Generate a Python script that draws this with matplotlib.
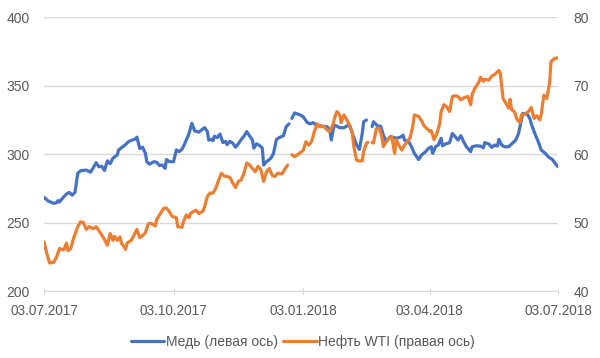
import numpy as np
import pandas as pd
import matplotlib
matplotlib.use("Agg")
import matplotlib.pyplot as plt
import matplotlib.dates as mdates

# Copper (left axis): days since 03.07.2017 and values, NaN = gap in data
copper_days = [0, 3, 7, 9, 10, 11, 14, 16, 18, 20, 22, 24, 26, 30, 33, 35, 37, 39, 41, 43,
               45, 47, 49, 52, 53, 55, 58, 60, 62, 65, 66, 68, 70, 72, 73, 75, 78, 80, 82, 84,
               86, 87, 89, 92, 94, 96, 98, 100, 103, 105, 107, 110, 112, 114, 116, 117, 119, 120, 121, 123,
               125, 127, 129, 130, 132, 134, 136, 138, 140, 142, 144, 146, 148, 149, 151, 153, 155, 156, 158, 161,
               163, 165, 167, 170, 172, 174, 175, 176, 178, 182, 184, 187, 189, 191, 194, 197, 201, 203, 204, 206,
               208, 210, 213, 215, 217, 219, 222, 224, 226, 227, 229, 231, 233, 234, 237, 239, 241, 243, 246, 248,
               250, 253, 255, 256, 259, 261, 263, 266, 268, 271, 273, 275, 276, 278, 280, 282, 283, 285, 288, 290,
               292, 294, 296, 298, 300, 303, 304, 307, 310, 312, 313, 316, 318, 320, 322, 323, 325, 327, 330, 332,
               335, 337, 339, 340, 343, 345, 346, 349, 351, 353, 356, 358, 361, 363, 365]
copper = [268.4, 265.7, 264, 264.5, 266, 265, 268.8, 270.8, 272, 270, 272, 286, 287.8, 288.3, 286.7, 290, 293.7, 290.7, 291, 288,
          295, 293, 297, 299.3, 303, 304.6, 307, 309, 310, 311, 312.3, 304, 305, 300.6, 294.4, 292.6, 294.4, 294, 291.6, 292,
          289.5, 296, 294.4, 294.4, 303, 301.8, 303.5, 307.7, 315, 322.4, 316.9, 316, 317.7, 319.3, 316.4, 310.2, 310.7, 309.7, 313, 312,
          314.6, 308.4, 309.2, 306.8, 309.2, 308, 305, 307.5, 310.5, 313, 316.4, 313.2, 310.3, 304.3, 307.5, 306.3, 304.4, 292, 294.4, 296.8,
          300.5, 310.5, 312, 313.3, 320, 322, np.nan, 326, 330, 328.5, 327.3, 322.9, 322, 322.9, 320.7, 320.4, 320, 317.6, 310.2, 321,
          320.4, 319.2, 319.2, 320.4, 321, 315, 306.6, 303.4, 315, 323.6, 324.8, np.nan, 320, 323.6, 320.4, 320.4, 313.8, 309, 312.7, 312.2,
          311.5, 312.2, 313.8, 310.2, 309, 305.3, 300.5, 296, 299.2, 301.7, 304.1, 305.3, 300.5, 305.3, 306.6, 311.5, 306, 307.3, 308.3, 315,
          312.7, 310.2, 313.4, 309, 305.3, 301.7, 305.3, 306, 305.8, 304.5, 308.3, 307.3, 304.8, 306.6, 305.8, 310.7, 306.6, 305.3, 305.3, 307.3,
          310.2, 315, 324.8, 329.7, 329.2, 326, 322, 313.8, 309, 303, 300.5, 298, 296, 293.2, 290.7]

# WTI oil (right axis)
oil_days = [0, 2, 4, 7, 9, 11, 14, 16, 17, 19, 21, 24, 26, 28, 30, 32, 35, 37, 39, 41,
            43, 45, 47, 49, 50, 52, 54, 55, 58, 59, 62, 64, 66, 68, 70, 72, 74, 76, 79, 80,
            82, 85, 87, 89, 91, 94, 95, 98, 99, 101, 103, 104, 106, 108, 110, 113, 114, 116, 118, 120,
            122, 124, 126, 128, 130, 132, 134, 136, 138, 140, 142, 144, 146, 148, 150, 152, 154, 156, 158, 160,
            162, 164, 166, 169, 171, 173, 175, 176, 178, 182, 184, 186, 188, 190, 192, 194, 196, 199, 201, 203,
            205, 207, 208, 210, 211, 213, 215, 217, 219, 220, 222, 223, 226, 227, 229, 230, 231, 233, 234, 236,
            238, 240, 241, 243, 245, 247, 249, 250, 252, 254, 256, 258, 260, 262, 263, 266, 268, 270, 272, 274,
            275, 277, 279, 281, 282, 284, 286, 288, 290, 292, 294, 296, 298, 301, 303, 304, 306, 309, 310, 312,
            313, 316, 318, 320, 323, 324, 326, 328, 330, 331, 332, 334, 336, 338, 339, 342, 344, 346, 348, 350,
            352, 353, 355, 357, 359, 360, 363, 365]
oil = [47.2, 45.5, 44.1, 44.2, 45, 46.2, 46, 47, 45.9, 46.2, 47.7, 49.4, 50.1, 50, 49, 49.4, 49.1, 49.4, 48.8, 48.2,
       47.5, 46.7, 48.4, 47.4, 48, 47.4, 47.9, 47, 46.1, 47, 47.4, 48.2, 49, 47.8, 48.1, 48.5, 49.8, 49.9, 49.5, 50.4,
       51.1, 52.1, 52.1, 51.6, 50.9, 50.7, 49.4, 49.3, 50.1, 51.1, 50.7, 51.3, 51.6, 51.8, 51.3, 51.7, 52.3, 53.8, 54.3, 54.3,
       55, 56.2, 57.2, 56.8, 56.7, 56.6, 55.8, 55.1, 56, 56.2, 57.2, 58.7, 58.4, 57.9, 57.4, 58.2, 57.7, 56, 57.4, 57.9,
       56.9, 56.7, 57.2, 57.1, 57.8, 58.4, np.nan, 59.9, 59.6, 60.2, 60.5, 61.8, 61.3, 61.8, 63.3, 64.4, 64, 64, 63.5, 63.3,
       64.2, 65.7, 66.2, 65.7, 64.6, 65.7, 65, 64.2, 63, 61.1, 59.1, 59, 59, 60.4, 61.6, 61.7, np.nan, 61.7, 61.6, 63.7,
       63.8, 62.5, 61.1, 61.8, 62.3, 62.5, 60.1, 62.1, 61.3, 60.6, 61.3, 61.8, 62.4, 64.2, 65.7, 65.5, 64.9, 64.1, 63.7, 63.3,
       63.4, 62.1, 63, 64.4, 66.2, 67.2, 66.9, 66.2, 68.4, 68.5, 68.4, 67.9, 68.2, 68.4, 67.2, 68.7, 69.6, 70.6, 71.2, 70.6,
       70.9, 70.8, 71.4, 71.6, 72.2, 71.8, 68.1, 67.4, 66.7, 68, 66.5, 66.2, 65, 64.6, 65.7, 65.9, 66.2, 66.8, 65.2, 65.6,
       65, 65.7, 68.6, 68.1, 70.3, 73.5, 74, 74]

tick_dates = ["2017-07-03", "2017-10-03", "2018-01-03", "2018-04-03", "2018-07-03"]

start = pd.Timestamp("2017-07-03")
copper_dates = start + pd.to_timedelta(copper_days, unit="D")
oil_dates = start + pd.to_timedelta(oil_days, unit="D")

plt.rcParams['font.family'] = ['Liberation Sans', 'DejaVu Sans']
label_color = '#595959'
grid_color = '#D9D9D9'

fig = plt.figure(figsize=(6, 3.58), dpi=100)
ax = fig.add_axes([0.0733, 0.187, 0.8567, 0.7655])
ax2 = ax.twinx()

l1, = ax.plot(copper_dates, copper, color='#4472C4', lw=2.3, label='Медь (левая ось)', solid_capstyle='round')
l2, = ax2.plot(oil_dates, oil, color='#ED7D31', lw=2.3, label='Нефть WTI (правая ось)', solid_capstyle='round')

ax.set_ylim(200, 400)
ax.set_yticks([200, 250, 300, 350, 400])
ax2.set_ylim(40, 80)
ax2.set_yticks([40, 50, 60, 70, 80])
ax.set_xlim(pd.Timestamp(tick_dates[0]), pd.Timestamp(tick_dates[-1]))
ax.set_xticks([pd.Timestamp(d) for d in tick_dates])
ax.xaxis.set_major_formatter(mdates.DateFormatter('%d.%m.%Y'))

ax.grid(axis='y', color=grid_color, lw=1)
ax.set_axisbelow(True)
for a in (ax, ax2):
    for s in ['top', 'left', 'right']:
        a.spines[s].set_visible(False)
    a.spines['bottom'].set_color(grid_color)
ax2.spines['bottom'].set_visible(False)

ax.tick_params(axis='y', length=0, labelsize=10, labelcolor=label_color, pad=10)
ax2.tick_params(axis='y', length=0, labelsize=10, labelcolor=label_color, pad=11)
ax.tick_params(axis='x', length=5, direction='inout', color=grid_color, labelsize=9.8,
               labelcolor=label_color, pad=7)

fig.legend(handles=[l1, l2], loc='center', bbox_to_anchor=(0.505, 0.045), ncol=2, frameon=False,
           fontsize=10, labelcolor=label_color, handlelength=2.4, handletextpad=0.1, columnspacing=0.4)

fig.savefig('out.png', dpi=100)
